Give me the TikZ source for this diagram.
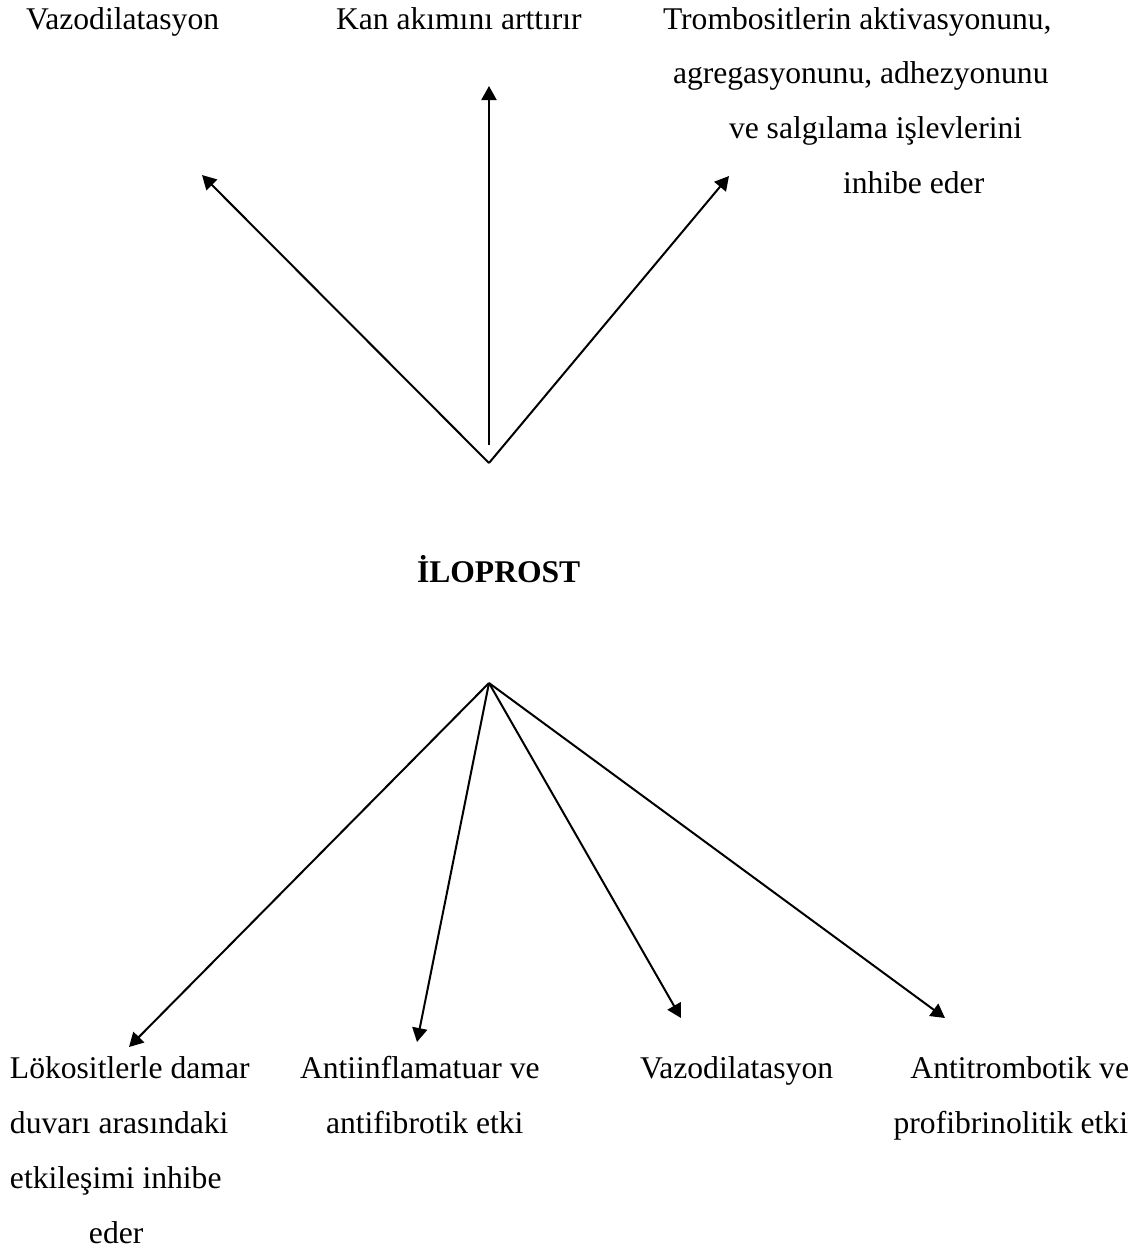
\documentclass[tikz,border=0pt]{standalone}
\usepackage{fontspec}
\setmainfont{Liberation Serif}
\usetikzlibrary{arrows.meta}
\tikzset{
  lbl/.style={inner sep=0pt, outer sep=0pt, font=\fontsize{15.8}{19}\selectfont, anchor=base west},
  lblr/.style={lbl, anchor=base east},
  arr/.style={line width=1pt, -{Triangle[length=7pt,width=7.5pt]}},
}
\begin{document}
\begin{tikzpicture}[x=0.5pt,y=-0.5pt]
\useasboundingbox (0,0) rectangle (1146,1250);
% top labels
\node[lbl] (vazoT) at (26,29) {Vazodilatasyon};
\node[lbl] (kan) at (336,29) {Kan akımını arttırır};
\node[lbl] (tr1) at (663,29) {Trombositlerin aktivasyonunu,};
\node[lbl] (tr2) at (673,83) {agregasyonunu, adhezyonunu};
\node[lbl] (tr3) at (729,138) {ve salgılama işlevlerini};
\node[lbl] (tr4) at (843,193) {inhibe eder};
% centre
\node[lbl, font=\fontsize{15.8}{19}\selectfont\bfseries] (ilo) at (417,582) {İLOPROST};
% bottom labels
\node[lbl] (lk1) at (10,1078) {Lökositlerle damar};
\node[lbl] (lk2) at (10,1133) {duvarı arasındaki};
\node[lbl] (lk3) at (10,1188) {etkileşimi inhibe};
\node[lbl] (lk4) at (89,1243) {eder};
\node[lbl] (ai1) at (300,1078) {Antiinflamatuar ve};
\node[lbl] (ai2) at (326,1133) {antifibrotik etki};
\node[lbl] (vazoB) at (640,1078) {Vazodilatasyon};
\node[lblr] (at1) at (1129,1078) {Antitrombotik ve};
\node[lblr] (at2) at (1128,1133) {profibrinolitik etki};
% connector points
\coordinate (apexT) at (489,463);
\coordinate (midS) at (489,445);
\coordinate (tipVL) at (202,175);
\coordinate (tipK) at (489,86);
\coordinate (tipTR) at (729,176);
\coordinate (apexB) at (489,683);
\coordinate (tipL) at (129,1047);
\coordinate (tipA) at (417,1042);
\coordinate (tipV) at (681,1018);
\coordinate (tipAT) at (945,1018);
% arrows
\draw[arr] (apexT) -- (tipVL);
\draw[arr] (apexT) -- (tipTR);
\draw[arr] (midS) -- (tipK);
\draw[arr] (apexB) -- (tipL);
\draw[arr] (apexB) -- (tipA);
\draw[arr] (apexB) -- (tipV);
\draw[arr] (apexB) -- (tipAT);
\end{tikzpicture}
\end{document}
